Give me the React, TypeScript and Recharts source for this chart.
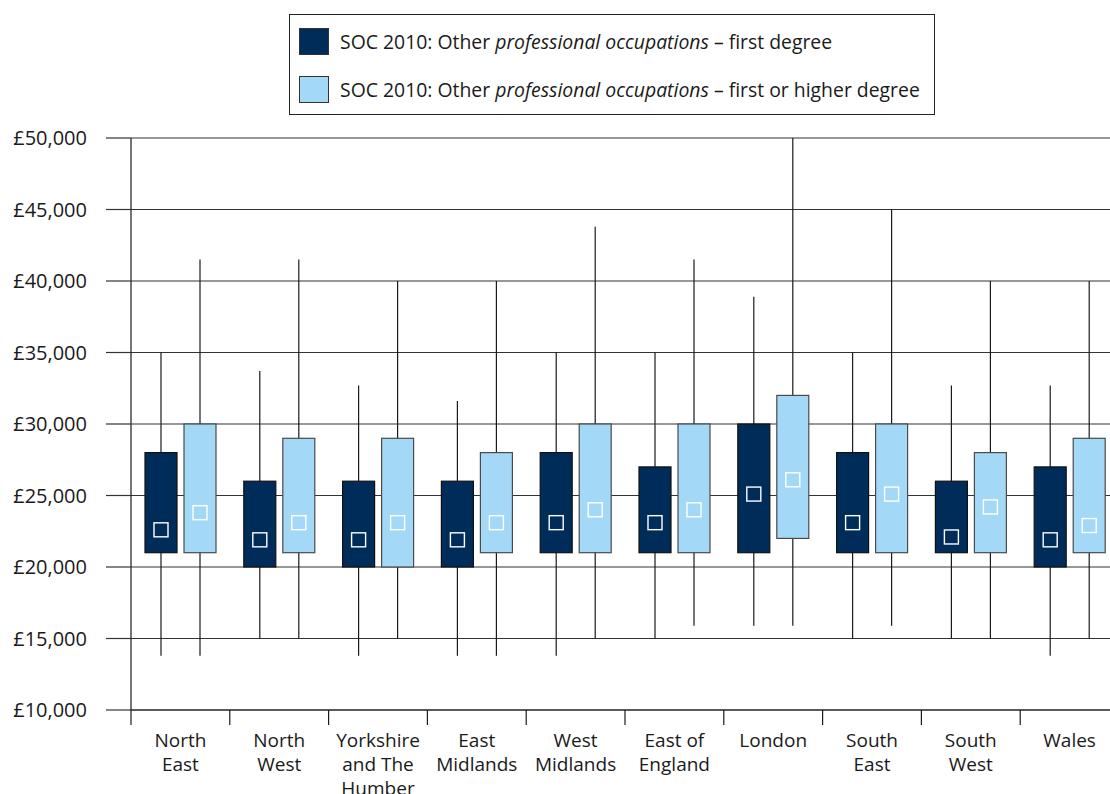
import React from 'react';
import { ComposedChart, Bar, XAxis, YAxis, CartesianGrid } from 'recharts';

const categories = ['North East', 'North West', 'Yorkshire and The Humber', 'East Midlands', 'West Midlands', 'East of England', 'London', 'South East', 'South West', 'Wales'];
const tickLines = [['North', 'East'], ['North', 'West'], ['Yorkshire', 'and The', 'Humber'], ['East', 'Midlands'], ['West', 'Midlands'], ['East of', 'England'], ['London'], ['South', 'East'], ['South', 'West'], ['Wales']];

// first degree
const firstMin = [13800, 15000, 13800, 13800, 13800, 15000, 15900, 15000, 15000, 13800];
const firstQ1 = [21000, 20000, 20000, 20000, 21000, 21000, 21000, 21000, 21000, 20000];
const firstQ3 = [28000, 26000, 26000, 26000, 28000, 27000, 30000, 28000, 26000, 27000];
const firstMax = [35000, 33700, 32700, 31600, 35000, 35000, 38900, 35000, 32700, 32700];
const firstMid = [22600, 21900, 21900, 21900, 23100, 23100, 25100, 23100, 22100, 21900];

// first or higher degree
const higherMin = [13800, 15000, 15000, 13800, 15000, 15900, 15900, 15900, 15000, 15000];
const higherQ1 = [21000, 21000, 20000, 21000, 21000, 21000, 22000, 21000, 21000, 21000];
const higherQ3 = [30000, 29000, 29000, 28000, 30000, 30000, 32000, 30000, 28000, 29000];
const higherMax = [41500, 41500, 40000, 40000, 43800, 41500, 50000, 45000, 40000, 40000];
const higherMid = [23800, 23100, 23100, 23100, 24000, 24000, 26100, 25100, 24200, 22900];

const yTicks = [10000, 15000, 20000, 25000, 30000, 35000, 40000, 45000, 50000];

const DARK = '#002c5a';
const LIGHT = '#a3d9f6';
const INK = '#1a1a1a';

const CHART_W = 1130;
const CHART_H = 794;
const MARGIN = { top: 138, right: 11, left: 0, bottom: 0 };
const Y_W = 131;
const BAND = (CHART_W - MARGIN.left - MARGIN.right - Y_W) / categories.length;

const data = categories.map((name, i) => ({
  name,
  first: [firstQ1[i], firstQ3[i]],
  firstMin: firstMin[i],
  firstMax: firstMax[i],
  firstMid: firstMid[i],
  higher: [higherQ1[i], higherQ3[i]],
  higherMin: higherMin[i],
  higherMax: higherMax[i],
  higherMid: higherMid[i],
}));

const BoxShape = (props: any) => {
  const { x, y, width, height, payload, series, fill, stroke } = props;
  const [q1, q3] = payload[series];
  const top = Math.min(y, y + height);
  const h = Math.abs(height);
  const ppu = h / (q3 - q1);
  const cx = x + width / 2;
  const yMax = top - (payload[series + 'Max'] - q3) * ppu;
  const yMin = top + h + (q1 - payload[series + 'Min']) * ppu;
  const yMid = top + (q3 - payload[series + 'Mid']) * ppu;
  return (
    <g>
      <line x1={cx} x2={cx} y1={yMax} y2={yMin} stroke={INK} strokeWidth={1.2} />
      <rect x={x} y={top} width={width} height={h} fill={fill} stroke={stroke} strokeWidth={1.2} />
      <rect x={cx - 7} y={yMid - 7} width={14} height={14} fill="none" stroke="#ffffff" strokeWidth={1.4} />
    </g>
  );
};

const CategoryTick = (props: any) => {
  const { x, y, payload } = props;
  const lines = tickLines[payload.index] || [payload.value];
  return (
    <g>
      <line x1={x - BAND / 2} x2={x - BAND / 2} y1={y} y2={y + 15} stroke={INK} strokeWidth={1.2} />
      <text x={x} y={y + 37} textAnchor="middle" fill={INK} fontSize={19}>
        {lines.map((l, i) => (
          <tspan key={i} x={x} dy={i === 0 ? 0 : 24}>{l}</tspan>
        ))}
      </text>
    </g>
  );
};

const LegendBox = () => (
  <div style={{
    position: 'absolute', left: 289, top: 14, width: 646, height: 101,
    border: '1px solid #222', background: '#fff', boxSizing: 'border-box', fontSize: 19.4, color: INK,
  }}>
    {[{ c: DARK, t: 'first degree' }, { c: LIGHT, t: 'first or higher degree' }].map((r, i) => (
      <div key={i} style={{ position: 'absolute', left: 9, top: 12 + i * 48, display: 'flex', alignItems: 'center', height: 28 }}>
        <div style={{ width: 30, height: 27, background: r.c, border: '1px solid #333', boxSizing: 'border-box' }} />
        <span style={{ marginLeft: 11, whiteSpace: 'nowrap' }}>
          SOC 2010: Other <i>professional occupations</i> – {r.t}
        </span>
      </div>
    ))}
  </div>
);

export default function App() {
  return (
    <div style={{ position: 'absolute', left: 0, top: 0, width: 1110, height: 794, overflow: 'hidden', background: '#fff', fontFamily: '"Open Sans", sans-serif' }}>
      <ComposedChart width={CHART_W} height={CHART_H} data={data} margin={MARGIN} barGap={7}>
        <CartesianGrid vertical={false} stroke="#333" strokeWidth={1.2} />
        <XAxis
          dataKey="name"
          height={84}
          interval={0}
          tickSize={0}
          tickMargin={0}
          tickLine={false}
          axisLine={{ stroke: INK, strokeWidth: 1.2 }}
          tick={<CategoryTick />}
        />
        <YAxis
          type="number"
          domain={[10000, 50000]}
          ticks={yTicks}
          interval={0}
          width={Y_W}
          tickSize={25}
          tickMargin={19}
          axisLine={{ stroke: INK, strokeWidth: 1.2 }}
          tickLine={{ stroke: '#333', strokeWidth: 1.2 }}
          tick={{ fill: INK, fontSize: 20 }}
          tickFormatter={(v: number) => '£' + v.toLocaleString('en-GB')}
        />
        <Bar dataKey="first" barSize={32} fill={DARK} isAnimationActive={false}
          shape={(p: any) => <BoxShape {...p} series="first" fill={DARK} stroke="#111" />} />
        <Bar dataKey="higher" barSize={32} fill={LIGHT} isAnimationActive={false}
          shape={(p: any) => <BoxShape {...p} series="higher" fill={LIGHT} stroke="#4a4a4a" />} />
      </ComposedChart>
      <LegendBox />
    </div>
  );
}
